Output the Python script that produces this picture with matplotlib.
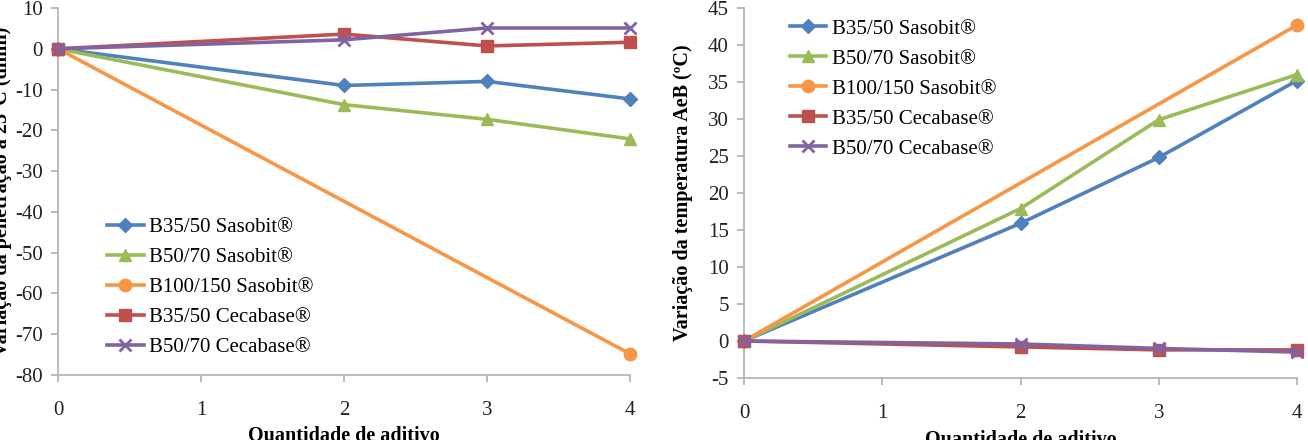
import numpy as np
import matplotlib
matplotlib.use('Agg')
import matplotlib.pyplot as plt

plt.rcParams['font.family'] = ['Liberation Serif', 'DejaVu Serif']
plt.rcParams['axes.unicode_minus'] = False

# dados
series = ['B35/50 Sasobit®', 'B50/70 Sasobit®', 'B100/150 Sasobit®',
          'B35/50 Cecabase®', 'B50/70 Cecabase®']
x_pts = [0, 2, 3, 4]
x_b100 = [0, 4]

pen_b35_sas = [0, -9, -8, -12.3]
pen_b50_sas = [0, -13.7, -17.3, -22.1]
pen_b100_sas = [0, -74.8]
pen_b35_cec = [0, 3.6, 0.7, 1.6]
pen_b50_cec = [0, 2.2, 5.1, 5.1]

aeb_b35_sas = [0, 15.9, 24.8, 35.2]
aeb_b50_sas = [0, 17.9, 29.9, 36]
aeb_b100_sas = [0, 42.7]
aeb_b35_cec = [0, -0.8, -1.2, -1.2]
aeb_b50_cec = [0, -0.4, -1.0, -1.5]

colors = ['#4F81BD', '#9BBB59', '#F79646', '#C0504D', '#8064A2']
markers = ['D', '^', 'o', 's', 'x']
msizes = [7, 9, 9, 9, 9]

fig = plt.figure(figsize=(13.08, 4.4), dpi=100)
ax1 = fig.add_axes([58/1308, 1-375/440, 572/1308, 367/440])
ax2 = fig.add_axes([744/1308, 1-378/440, 553/1308, 370/440])

def draw(ax, data, ylim, yticks, ylabel, ylab_x, leg_xy):
    for i, (xs, ys) in enumerate(data):
        ax.plot(xs, ys, color=colors[i], marker=markers[i], markersize=msizes[i],
                lw=2.6, mew=2 if markers[i] == 'x' else 1, label=series[i],
                clip_on=False, zorder=3 + (i >= 3))
    ax.set_xlim(0, 4)
    ax.set_ylim(*ylim)
    ax.set_xticks([0, 1, 2, 3, 4])
    ax.set_yticks(yticks)
    for s in ['top', 'right']:
        ax.spines[s].set_visible(False)
    for s in ['left', 'bottom']:
        ax.spines[s].set_color('#B0B0B0')
        ax.spines[s].set_linewidth(1.2)
    ax.tick_params(axis='both', colors='#B0B0B0', labelcolor='#222222',
                   labelsize=15, length=5, width=1.2)
    ax.tick_params(axis='x', pad=14)
    ax.tick_params(axis='y', pad=6)
    ax.set_ylabel(ylabel, fontsize=14.5, fontweight='bold')
    ax.yaxis.set_label_coords(ylab_x, 0.5)
    ax.set_xlabel('Quantidade de aditivo', fontsize=14.5, fontweight='bold')
    ax.xaxis.set_label_coords(0.5, -0.14)
    ax.legend(loc='upper left', bbox_to_anchor=leg_xy, frameon=False,
              fontsize=15, handlelength=1.75, handletextpad=0.25,
              labelspacing=0.5, borderpad=0, borderaxespad=0)

draw(ax1, [(x_pts, pen_b35_sas), (x_pts, pen_b50_sas), (x_b100, pen_b100_sas),
           (x_pts, pen_b35_cec), (x_pts, pen_b50_cec)],
     (-80, 10), np.arange(-80, 11, 10),
     'Variação da penetração a 25°C (dmm)', -0.080, (0.086, 0.429))
draw(ax2, [(x_pts, aeb_b35_sas), (x_pts, aeb_b50_sas), (x_b100, aeb_b100_sas),
           (x_pts, aeb_b35_cec), (x_pts, aeb_b50_cec)],
     (-5, 45), np.arange(-5, 46, 5),
     'Variação da temperatura AeB (ºC)', -0.092, (0.083, 0.970))

fig.savefig('out.png', dpi=100)
